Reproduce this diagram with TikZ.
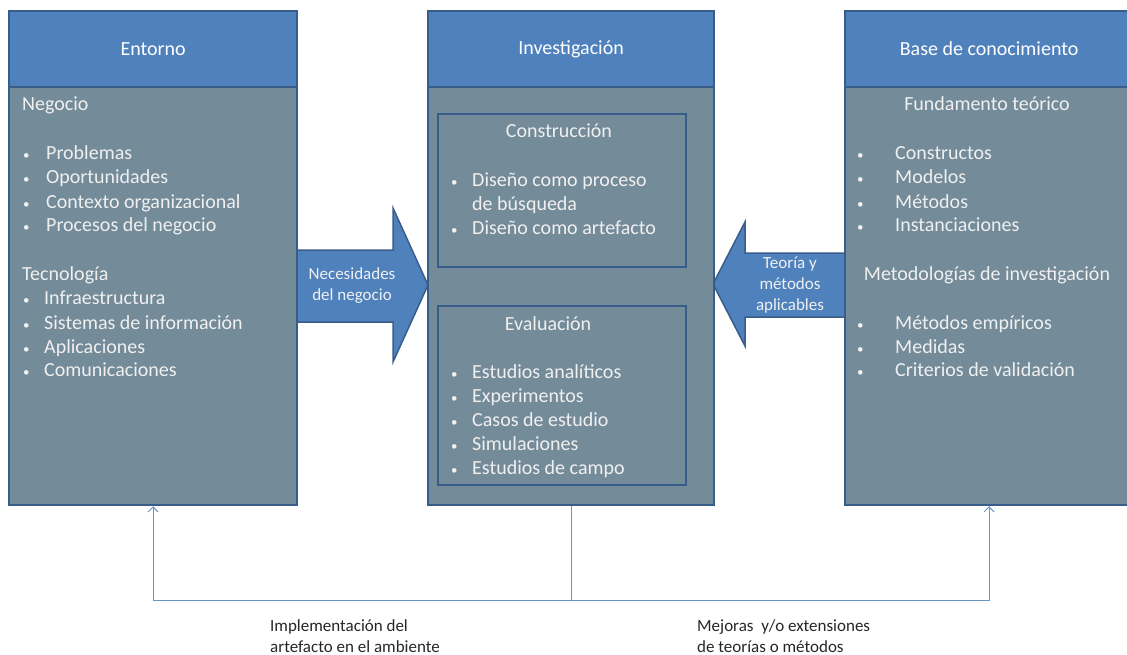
\documentclass[tikz,border=0pt]{standalone}
\usepackage{fontspec}
\setmainfont{Carlito}
\usetikzlibrary{arrows.meta}

\definecolor{headblue}{HTML}{4F81BD}
\definecolor{slate}{HTML}{748B99}
\definecolor{edgeblue}{HTML}{385D8A}
\definecolor{lighttxt}{HTML}{F0F0F0}

\tikzset{
  panel/.style={draw=edgeblue, line width=2.2pt, fill=slate, anchor=north west, inner sep=0pt},
  header/.style={draw=edgeblue, line width=2.2pt, fill=headblue, anchor=north, inner sep=0pt,
    minimum height=76pt, text=white, font=\fontsize{20}{24}\selectfont},
  txt/.style={anchor=base west, inner sep=0pt, text=lighttxt, font=\fontsize{20}{24}\selectfont},
  ctxt/.style={txt, anchor=base},
  bul/.style={txt, font=\fontsize{13}{14}\selectfont},
  big arrow/.style={draw=edgeblue, line width=1.5pt, fill=headblue, line join=miter},
  arrtxt/.style={align=center, inner sep=0pt, text=lighttxt, font=\fontsize{17}{21}\selectfont},
  feed/.style={draw=headblue!85!white, line width=1pt},
  note/.style={anchor=base west, align=left, inner sep=0pt, text=black!85, font=\fontsize{17}{21}\selectfont}
}

\begin{document}
\begin{tikzpicture}[x=1pt, y=-1pt, >={Straight Barb[length=5pt,width=10pt]}]
\useasboundingbox (0,0) rectangle (1127,655);

% big arrows between the panels
\draw[big arrow] (296,250) -- (393,250) -- (393,208) -- (428,285) -- (393,362) -- (393,322) -- (296,322) -- cycle;
\draw[big arrow] (845,253) -- (745,253) -- (745,222) -- (713,284) -- (745,346) -- (745,317) -- (845,317) -- cycle;
\node[arrtxt] (nec) at (352,286) {Necesidades\\del negocio};
\node[arrtxt] (teo) at (790,285) {Teoría y\\métodos\\aplicables};

% panels
\node[panel, minimum width=288pt, minimum height=494pt] (ent) at (8,10) {};
\node[panel, minimum width=286pt, minimum height=494pt] (inv) at (427,10) {};
\node[panel, minimum width=288pt, minimum height=494pt] (kb) at (844,10) {};
\node[header, minimum width=288pt] (enth) at (ent.north) {Entorno};
\node[header, minimum width=286pt] (invh) at (inv.north) {Investigación};
\node[header, minimum width=288pt] (kbh) at (kb.north) {Base de conocimiento};

\node[panel, minimum width=248pt, minimum height=153pt] (cons) at (437,113) {};
\node[panel, minimum width=248pt, minimum height=179pt] (eval) at (437,305) {};

% Entorno
\node[txt] (neg) at (22,111) {Negocio};
\foreach \t [count=\i] in {Problemas, Oportunidades, Contexto organizacional, Procesos del negocio}{
  \node[bul] (negb-\i) at (23,136+24*\i) {\textbullet};
  \node[txt] (negi-\i) at (46,136+24*\i) {\t};
}
\node[txt] (tec) at (22,280) {Tecnología};
\foreach \t/\y [count=\i] in {Infraestructura/304, Sistemas de información/329, Aplicaciones/353, Comunicaciones/376}{
  \node[bul] (tecb-\i) at (23,\y) {\textbullet};
  \node[txt] (teci-\i) at (44,\y) {\t};
}

% Investigacion
\node[ctxt] (consl) at (559,138) {Construcción};
\foreach \t [count=\i] in {Diseño como proceso, de búsqueda, Diseño como artefacto}{
  \node[txt] (consi-\i) at (472,163+24*\i) {\t};
}
\node[bul] (consb-1) at (451,187) {\textbullet};
\node[bul] (consb-2) at (451,235) {\textbullet};
\node[ctxt] (evall) at (548,330) {Evaluación};
\foreach \t [count=\i] in {Estudios analíticos, Experimentos, Casos de estudio, Simulaciones, Estudios de campo}{
  \node[bul] (evalb-\i) at (451,354+24*\i) {\textbullet};
  \node[txt] (evali-\i) at (472,354+24*\i) {\t};
}

% Base de conocimiento
\node[ctxt] (fund) at (987,111) {Fundamento teórico};
\foreach \t [count=\i] in {Constructos, Modelos, Métodos, Instanciaciones}{
  \node[bul] (fundb-\i) at (857,136+24*\i) {\textbullet};
  \node[txt] (fundi-\i) at (895,136+24*\i) {\t};
}
\node[ctxt] (met) at (987,280) {Metodologías de investigación};
\foreach \t/\y [count=\i] in {Métodos empíricos/329, Medidas/353, Criterios de validación/376}{
  \node[bul] (metb-\i) at (857,\y) {\textbullet};
  \node[txt] (meti-\i) at (895,\y) {\t};
}

% retroalimentacion
\coordinate (jn) at ([yshift=-94pt]inv.south);
\draw[feed] (inv.south) -- (jn);
\draw[feed,->] (jn) -| (ent.south);
\draw[feed,->] (jn) -| (kb.south);

\node[note] (impl) at (270,652) {Implementación del\\artefacto en el ambiente};
\node[note] (mej) at (697,652) {Mejoras\ \ y/o extensiones\\de teorías o métodos};
\end{tikzpicture}
\end{document}
